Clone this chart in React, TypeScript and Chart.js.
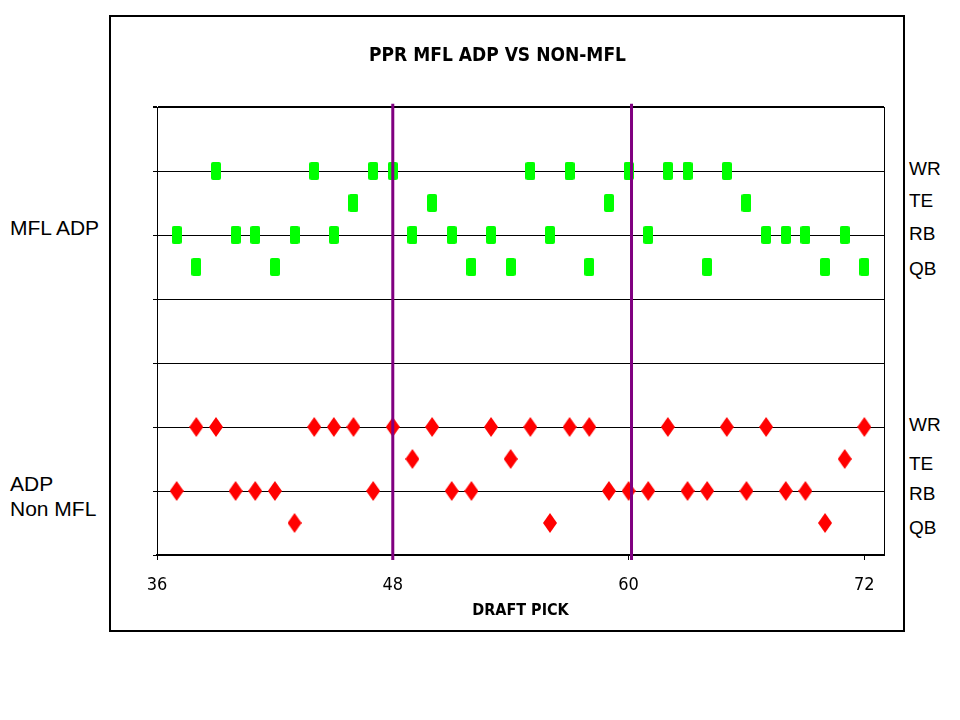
import { useEffect, useRef } from "react";
import { Chart, registerables } from "chart.js";
Chart.register(...registerables);

// draft picks by position, MFL ADP rows (top) and non-MFL ADP rows (bottom)
const mflWR = [39, 44, 47, 48, 55, 57, 60, 62, 63, 65];
const mflTE = [46, 50, 59, 66];
const mflRB = [37, 40, 41, 43, 45, 49, 51, 53, 56, 61, 67, 68, 69, 71];
const mflQB = [38, 42, 52, 54, 58, 64, 70, 72];

const nonWR = [38, 39, 44, 45, 46, 48, 50, 53, 55, 57, 58, 62, 65, 67, 72];
const nonTE = [49, 54, 71];
const nonRB = [37, 40, 41, 42, 47, 51, 52, 59, 60, 61, 63, 64, 66, 68, 69];
const nonQB = [43, 56, 70];

const positions = ["WR", "TE", "RB", "QB"];
const mflRows = [6, 5.5, 5, 4.5];
const nonRows = [2, 1.5, 1, 0.5];

const xTicks = [36, 48, 60, 72];
const markerPicks = [48, 60.15];
const markerSpan = [-0.08, 7.05];

const NARROW = "'Liberation Sans Narrow', 'Arial Narrow', 'DejaVu Sans Condensed', sans-serif";
const SANS = "'Liberation Sans', Arial, sans-serif";

function markerImage(kind: "rect" | "diamond", w: number, h: number, color: string) {
  const c = document.createElement("canvas");
  c.width = w;
  c.height = h;
  const g = c.getContext("2d")!;
  g.fillStyle = color;
  g.beginPath();
  if (kind === "rect") {
    g.roundRect(0, 0, w, h, 2);
  } else {
    g.moveTo(w / 2, 0);
    g.lineTo(w, h / 2);
    g.lineTo(w / 2, h);
    g.lineTo(0, h / 2);
    g.closePath();
  }
  g.fill();
  return c;
}

// right edge of the plot box
const areaEdge = {
  id: "areaEdge",
  beforeDatasetsDraw(chart: Chart) {
    const { ctx, chartArea: a } = chart;
    ctx.save();
    ctx.strokeStyle = "#000";
    ctx.lineWidth = 1;
    ctx.beginPath();
    ctx.moveTo(a.right + 0.5, a.top);
    ctx.lineTo(a.right + 0.5, a.bottom);
    ctx.stroke();
    ctx.restore();
  },
};

export default function App() {
  const chartRef = useRef<HTMLCanvasElement>(null);
  const chartInstance = useRef<Chart | null>(null);

  useEffect(() => {
    if (!chartRef.current) return;
    if (chartInstance.current) chartInstance.current.destroy();

    const square = markerImage("rect", 10, 18, "#00ff00");
    const diamond = markerImage("diamond", 14, 20, "#ff0000");
    const mflPicks = [mflWR, mflTE, mflRB, mflQB];
    const nonPicks = [nonWR, nonTE, nonRB, nonQB];

    const pointSets = positions.flatMap((pos, i) => [
      {
        type: "scatter" as const,
        label: "MFL " + pos,
        data: mflPicks[i].map((x) => ({ x, y: mflRows[i] })),
        pointStyle: square,
        pointRadius: 6,
        order: 1,
      },
      {
        type: "scatter" as const,
        label: "Non MFL " + pos,
        data: nonPicks[i].map((x) => ({ x, y: nonRows[i] })),
        pointStyle: diamond,
        pointRadius: 6,
        order: 1,
      },
    ]);

    const lineSets = markerPicks.map((x) => ({
      type: "line" as const,
      label: "pick " + x,
      data: [
        { x, y: markerSpan[0] },
        { x, y: markerSpan[1] },
      ],
      borderColor: "#800080",
      borderWidth: 3,
      pointRadius: 0,
      clip: false as const,
      order: 0,
    }));

    chartInstance.current = new Chart(chartRef.current, {
      type: "scatter",
      data: { datasets: [...pointSets, ...lineSets] as any },
      plugins: [areaEdge],
      options: {
        responsive: false,
        animation: false,
        layout: { padding: { left: 0, right: 19, top: 0, bottom: 0 } },
        plugins: {
          legend: { display: false },
          tooltip: { enabled: false },
          title: {
            display: true,
            text: "PPR MFL ADP VS NON-MFL",
            color: "#000",
            font: { family: NARROW, size: 19, weight: "bold" },
            padding: { top: 27.6, bottom: 39.6 },
          },
        },
        scales: {
          x: {
            type: "linear",
            min: 36,
            max: 73,
            afterBuildTicks: (s) => {
              s.ticks = xTicks.map((v) => ({ value: v }));
            },
            afterFit: (s) => {
              s.height = 75;
            },
            ticks: {
              color: "#000",
              font: { family: NARROW, size: 18 },
              padding: 15,
              maxRotation: 0,
              autoSkip: false,
            },
            grid: { drawOnChartArea: false, tickLength: 5, color: "#000" },
            border: { color: "#000", width: 2 },
            title: {
              display: true,
              text: "DRAFT PICK",
              color: "#000",
              font: { family: NARROW, size: 16, weight: "bold" },
              padding: { top: 0, bottom: 10 },
            },
          },
          y: {
            type: "linear",
            min: 0,
            max: 7,
            afterFit: (s) => {
              s.width = 46;
            },
            ticks: { stepSize: 1, display: false },
            grid: {
              color: "#000",
              tickLength: 4,
              lineWidth: (c) => (c.tick && c.tick.value === 7 ? 2 : 1),
            },
            border: { color: "#000", width: 1 },
          },
        },
      },
    });

    return () => {
      chartInstance.current?.destroy();
      chartInstance.current = null;
    };
  }, []);

  const sideLabel = { position: "absolute" as const, fontFamily: SANS, color: "#000", whiteSpace: "nowrap" as const };
  const mflTops = [158, 190, 223, 258];
  const nonTops = [414, 453, 483, 517];

  return (
    <div style={{ position: "absolute", left: 0, top: 0, width: 960, height: 720, background: "#fff" }}>
      <div
        style={{
          position: "absolute",
          left: 109,
          top: 15,
          width: 796,
          height: 617,
          border: "2px solid #000",
          boxSizing: "border-box",
        }}
      >
        <canvas ref={chartRef} width={792} height={613} style={{ display: "block" }}></canvas>
      </div>
      <div style={{ ...sideLabel, left: 10, top: 215, fontSize: 21, lineHeight: "25px" }}>MFL ADP</div>
      <div style={{ ...sideLabel, left: 10, top: 471, fontSize: 21, lineHeight: "25px" }}>
        ADP
        <br />
        Non MFL
      </div>
      {positions.map((pos, i) => (
        <div key={"m" + pos} style={{ ...sideLabel, left: 909, top: mflTops[i], fontSize: 19, lineHeight: "22px" }}>
          {pos}
        </div>
      ))}
      {positions.map((pos, i) => (
        <div key={"n" + pos} style={{ ...sideLabel, left: 909, top: nonTops[i], fontSize: 19, lineHeight: "22px" }}>
          {pos}
        </div>
      ))}
    </div>
  );
}
